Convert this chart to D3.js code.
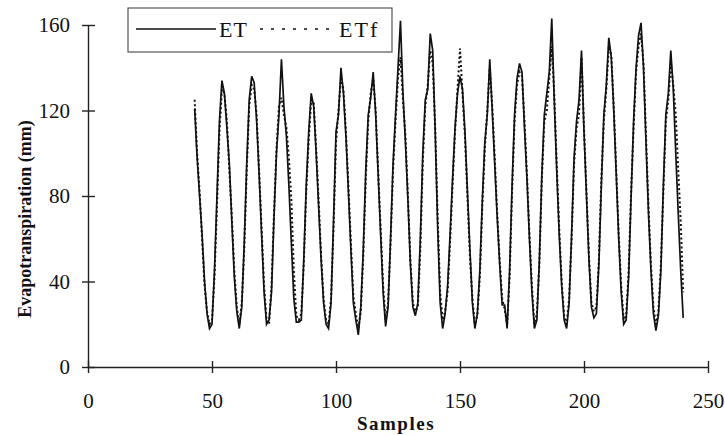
<!DOCTYPE html>
<html lang="en">
<head>
<meta charset="UTF-8">
<title>ET vs ETf</title>
<script src="https://d3js.org/d3.v7.min.js"></script>
<style>
    body { margin: 0; padding: 0; background: #fff; }
    svg text { font-family: "Liberation Serif", "Times New Roman", serif; fill: #111; }
</style>
</head>
<body>
<svg id="chart" width="725" height="435"></svg>
<script>
    // first sample number of the series
    const firstSample = 43;

    // measured ET, samples 43..240
    const et = [
        121, 98, 80, 62, 40, 25, 18, 20, 45, 80, 115, 134,
        128, 112, 95, 68, 42, 26, 18, 28, 58, 95, 125, 136,
        133, 115, 90, 62, 35, 20, 22, 35, 70, 100, 118, 144,
        122, 108, 85, 58, 32, 21, 21, 22, 50, 85, 110, 128,
        122, 100, 75, 50, 30, 20, 18, 30, 68, 110, 118, 140,
        128, 108, 82, 55, 30, 22, 15, 28, 55, 92, 118, 126,
        138, 118, 90, 62, 35, 19, 28, 60, 95, 118, 140, 162,
        128, 105, 78, 48, 28, 24, 30, 60, 100, 125, 130, 156,
        148, 110, 65, 30, 18, 25, 38, 62, 88, 112, 128, 136,
        130, 110, 82, 55, 30, 18, 25, 45, 78, 105, 118, 144,
        120, 95, 70, 48, 29, 29, 18, 45, 85, 118, 135, 142,
        138, 112, 88, 60, 35, 18, 22, 50, 90, 118, 128, 138,
        163, 125, 92, 62, 38, 22, 18, 30, 62, 98, 115, 125,
        148, 110, 80, 50, 28, 23, 25, 48, 85, 118, 132, 154,
        145, 120, 90, 60, 35, 20, 22, 42, 80, 115, 140, 155,
        161, 140, 105, 72, 45, 25, 17, 24, 45, 85, 118, 128,
        148, 130, 100, 72, 45, 23
    ];

    // forecast ETf, same samples
    const etf = [
        125, 100, 82, 60, 38, 26, 20, 22, 42, 75, 110, 130,
        128, 115, 92, 70, 45, 28, 20, 30, 55, 92, 122, 132,
        130, 118, 92, 65, 38, 22, 20, 38, 72, 102, 122, 126,
        118, 112, 98, 78, 45, 24, 22, 25, 48, 82, 106, 125,
        124, 102, 78, 52, 32, 22, 20, 32, 65, 105, 120, 135,
        130, 110, 85, 58, 33, 25, 18, 26, 52, 88, 115, 128,
        135, 120, 92, 65, 38, 22, 30, 58, 92, 115, 135, 145,
        125, 108, 80, 50, 30, 26, 28, 55, 96, 122, 132, 148,
        142, 112, 70, 35, 22, 26, 35, 58, 85, 110, 130, 149,
        128, 108, 80, 52, 32, 20, 24, 42, 75, 102, 120, 140,
        122, 98, 72, 50, 32, 27, 20, 42, 82, 115, 132, 138,
        136, 115, 90, 62, 38, 20, 25, 48, 88, 115, 120, 135,
        150, 128, 95, 65, 40, 24, 20, 32, 60, 95, 112, 118,
        145, 112, 82, 52, 30, 26, 28, 50, 88, 115, 130, 150,
        146, 122, 92, 62, 38, 22, 24, 45, 82, 112, 138, 150,
        156, 142, 108, 75, 48, 28, 20, 26, 48, 82, 115, 125,
        142, 132, 118, 92, 68, 35
    ];

    const xTicks = [0, 50, 100, 150, 200, 250];
    const yTicks = [0, 40, 80, 120, 160];

    const plotLeft = 88, plotRight = 708, plotTop = 25, plotBottom = 367;

    const svg = d3.select('#chart');

    const x = d3.scaleLinear().domain([0, 250]).range([plotLeft, plotRight]);
    const y = d3.scaleLinear().domain([0, 160]).range([plotBottom, plotTop]);

    // axes
    const xAxis = svg.append('g')
        .attr('transform', `translate(0,${plotBottom})`)
        .call(d3.axisBottom(x).tickValues(xTicks).tickSizeInner(6).tickSizeOuter(0).tickPadding(20));
    xAxis.selectAll('.tick line').attr('y1', -6);
    xAxis.selectAll('text').attr('font-size', 21).style('font-family', '"Liberation Serif", serif');

    const yAxis = svg.append('g')
        .attr('transform', `translate(${plotLeft},0)`)
        .call(d3.axisLeft(y).tickValues(yTicks).tickSizeInner(6).tickSizeOuter(0).tickPadding(12));
    yAxis.selectAll('.tick line').attr('x1', 7);
    yAxis.selectAll('text').attr('font-size', 21).style('font-family', '"Liberation Serif", serif');

    svg.selectAll('.domain, .tick line').attr('stroke', '#222').attr('stroke-width', 1.4);

    // series
    const line = d3.line()
        .x((d, i) => x(firstSample + i))
        .y(d => y(d));

    svg.append('path')
        .datum(etf)
        .attr('d', line)
        .attr('fill', 'none')
        .attr('stroke', '#111')
        .attr('stroke-width', 2)
        .attr('stroke-dasharray', '2,2.5');

    svg.append('path')
        .datum(et)
        .attr('d', line)
        .attr('fill', 'none')
        .attr('stroke', '#111')
        .attr('stroke-width', 1.7);

    // axis titles
    svg.append('text')
        .attr('x', 396).attr('y', 430)
        .attr('text-anchor', 'middle')
        .attr('font-size', 19).attr('font-weight', 'bold')
        .attr('letter-spacing', 1.5)
        .text('Samples');

    svg.append('text')
        .attr('transform', 'translate(31,219) rotate(-90)')
        .attr('text-anchor', 'middle')
        .attr('font-size', 18).attr('font-weight', 'bold')
        .text('Evapotranspiration (mm)');

    // legend
    const legend = svg.append('g');
    legend.append('rect')
        .attr('x', 128).attr('y', 8).attr('width', 264).attr('height', 44)
        .attr('fill', '#fff').attr('stroke', '#555').attr('stroke-width', 1.2);
    legend.append('line')
        .attr('x1', 136).attr('x2', 216).attr('y1', 29).attr('y2', 29)
        .attr('stroke', '#111').attr('stroke-width', 1.5);
    legend.append('text')
        .attr('x', 219).attr('y', 37).attr('font-size', 22).attr('letter-spacing', 1)
        .text('ET');
    legend.append('line')
        .attr('x1', 260).attr('x2', 335).attr('y1', 29).attr('y2', 29)
        .attr('stroke', '#111').attr('stroke-width', 1.5)
        .attr('stroke-dasharray', '3,8');
    legend.append('text')
        .attr('x', 339).attr('y', 37).attr('font-size', 22).attr('letter-spacing', 2)
        .text('ETf');
</script>
</body>
</html>
